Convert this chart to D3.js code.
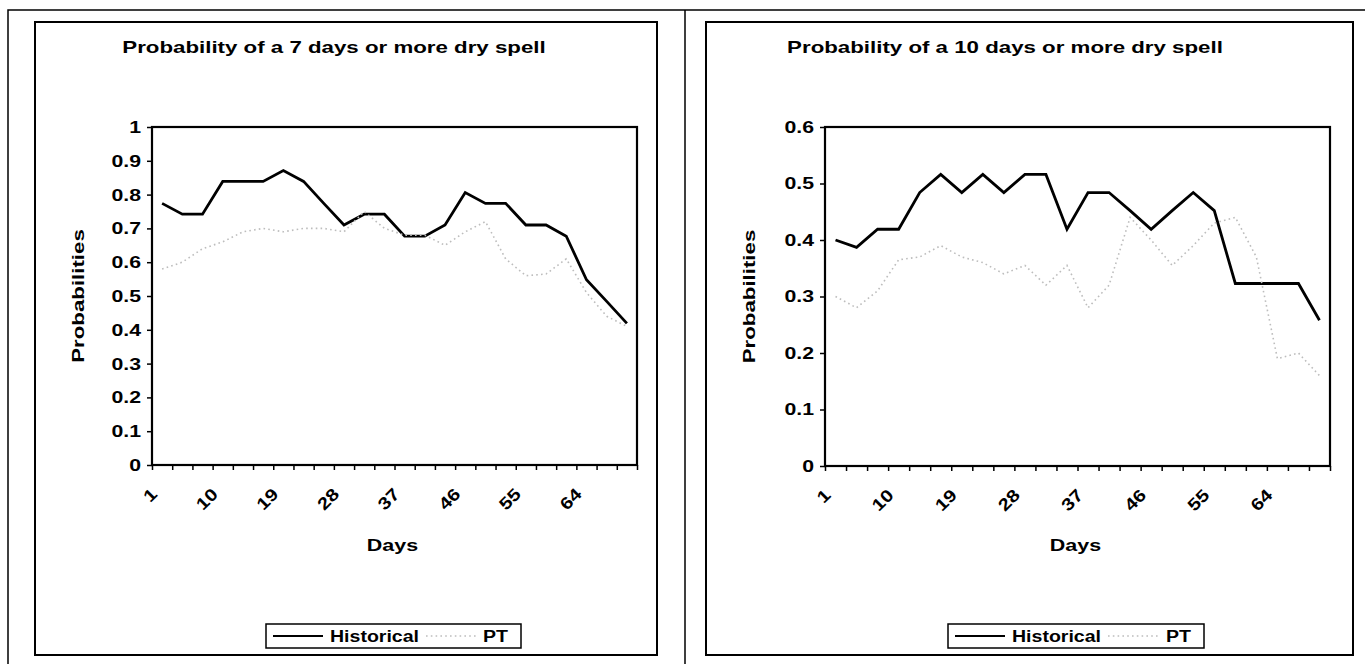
<!DOCTYPE html>
<html>
<head>
<meta charset="utf-8">
<script src="https://cdn.jsdelivr.net/npm/d3@7"></script>
<style>
  html, body { margin: 0; padding: 0; background: #fff; }
  svg text { font-family: "Liberation Sans", Arial, Helvetica, sans-serif; font-weight: bold; fill: #000; }
</style>
</head>
<body>
<svg id="fig" width="1365" height="664"></svg>
<script>
// Day of season (every third day) used as the category axis
const days = [1, 4, 7, 10, 13, 16, 19, 22, 25, 28, 31, 34, 37, 40, 43, 46, 49, 52, 55, 58, 61, 64, 67, 70];
const dayLabels = [1, 10, 19, 28, 37, 46, 55, 64];

// Probability of a dry spell of 7 days or more
const hist7 = [0.774, 0.742, 0.742, 0.839, 0.839, 0.839, 0.871, 0.839, 0.774, 0.710, 0.742, 0.742,
               0.677, 0.677, 0.710, 0.806, 0.774, 0.774, 0.710, 0.710, 0.677, 0.548, 0.484, 0.419];
const pt7   = [0.58, 0.60, 0.64, 0.66, 0.69, 0.70, 0.69, 0.70, 0.70, 0.69, 0.75, 0.70,
               0.68, 0.68, 0.65, 0.69, 0.72, 0.61, 0.56, 0.565, 0.61, 0.51, 0.44, 0.41];

// Probability of a dry spell of 10 days or more
const hist10 = [0.400, 0.387, 0.419, 0.419, 0.484, 0.516, 0.484, 0.516, 0.484, 0.516, 0.516, 0.419,
                0.484, 0.484, 0.452, 0.419, 0.452, 0.484, 0.452, 0.323, 0.323, 0.323, 0.323, 0.258];
const pt10   = [0.30, 0.28, 0.31, 0.365, 0.37, 0.39, 0.37, 0.36, 0.34, 0.355, 0.32, 0.355,
                0.28, 0.32, 0.44, 0.40, 0.355, 0.39, 0.43, 0.44, 0.37, 0.19, 0.20, 0.16];

const yTicks7  = [0, 0.1, 0.2, 0.3, 0.4, 0.5, 0.6, 0.7, 0.8, 0.9, 1];
const yTicks10 = [0, 0.1, 0.2, 0.3, 0.4, 0.5, 0.6];
const seriesNames = ["Historical", "PT"];

const panels = [
  { title: "Probability of a 7 days or more dry spell",
    frame: [35, 22, 657, 655], plot: [152, 127, 637, 465],
    yMax: 1, yTicks: yTicks7, hist: hist7, pt: pt7,
    legend: [266, 624, 521, 648] },
  { title: "Probability of a 10 days or more dry spell",
    frame: [706, 22, 1353, 655], plot: [825, 127, 1330, 466],
    yMax: 0.6, yTicks: yTicks10, hist: hist10, pt: pt10,
    legend: [948, 624, 1204, 648] }
];

// widen glyphs horizontally by factor k
function stretch(sel, k) {
  sel.each(function () {
    const w = this.getComputedTextLength();
    this.setAttribute("textLength", w * k);
    this.setAttribute("lengthAdjust", "spacingAndGlyphs");
  });
}

const svg = d3.select("#fig");

// Outer figure frame
svg.append("path")
  .attr("d", "M8,664 V10 H1365 M685,10 V664")
  .attr("fill", "none").attr("stroke", "#000").attr("stroke-width", 1.5);

const ptStyle = { stroke: "#bdbdbd", width: 1.6, dash: "1.6,3.2" };

panels.forEach(p => {
  const [fx0, fy0, fx1, fy1] = p.frame;
  const [px0, py0, px1, py1] = p.plot;
  const g = svg.append("g");

  // chart area border
  g.append("rect").attr("x", fx0).attr("y", fy0).attr("width", fx1 - fx0).attr("height", fy1 - fy0)
    .attr("fill", "none").attr("stroke", "#000").attr("stroke-width", 2);

  // title
  g.append("text").attr("x", fx0 + 299).attr("y", 53).attr("text-anchor", "middle")
    .style("font-size", "16.5px").text(p.title).call(stretch, 1.35);

  const x = d3.scaleBand().domain(days).range([px0, px1]).padding(0);
  const xEdge = d3.scaleLinear().domain([0, days.length]).range([px0, px1]);
  const y = d3.scaleLinear().domain([0, p.yMax]).range([py1, py0]);
  const cx = d => x(d) + x.bandwidth() / 2;

  // y axis ticks and labels
  const yAxis = d3.axisLeft(y).tickValues(p.yTicks).tickSize(5).tickPadding(6)
    .tickFormat(d => String(+d.toFixed(1)));
  const ya = g.append("g").attr("transform", `translate(${px0},0)`).call(yAxis);
  ya.select(".domain").remove();
  ya.selectAll(".tick line").attr("stroke", "#000").attr("stroke-width", 1.5);
  ya.selectAll(".tick text").attr("font-family", null).attr("font-size", null)
    .style("font-size", "17px").call(stretch, 1.25);

  // x axis: tick marks on category boundaries
  const xAxis = d3.axisBottom(xEdge).tickValues(d3.range(days.length + 1)).tickSize(5).tickFormat("");
  const xa = g.append("g").attr("transform", `translate(0,${py1})`).call(xAxis);
  xa.select(".domain").remove();
  xa.selectAll(".tick line").attr("stroke", "#000").attr("stroke-width", 1.5);

  // rotated day labels
  g.append("g").selectAll("text").data(dayLabels).join("text")
    .attr("transform", d => `translate(${cx(d) - 8},${py1 + 26}) rotate(-45)`)
    .attr("text-anchor", "end").attr("dy", "0.35em")
    .style("font-size", "17px").text(d => d).call(stretch, 1.2);

  // plot area box
  g.append("rect").attr("x", px0).attr("y", py0).attr("width", px1 - px0).attr("height", py1 - py0)
    .attr("fill", "none").attr("stroke", "#000").attr("stroke-width", 2.2);

  // axis titles
  g.append("text").attr("x", (px0 + px1) / 2 - 2).attr("y", 551).attr("text-anchor", "middle")
    .style("font-size", "16.5px").text("Days").call(stretch, 1.3);
  g.append("text").attr("transform", `translate(${fx0 + 49},${(py0 + py1) / 2}) rotate(-90)`)
    .attr("text-anchor", "middle")
    .style("font-size", "16.5px").text("Probabilities").call(stretch, 1.35);

  // series lines
  const line = d3.line().x((v, i) => cx(days[i])).y(v => y(v));
  g.append("path").datum(p.hist).attr("d", line)
    .attr("fill", "none").attr("stroke", "#000").attr("stroke-width", 2.8).attr("stroke-linejoin", "miter");
  g.append("path").datum(p.pt).attr("d", line)
    .attr("fill", "none").attr("stroke", ptStyle.stroke).attr("stroke-width", ptStyle.width)
    .attr("stroke-dasharray", ptStyle.dash);

  // legend
  const [lx0, ly0, lx1, ly1] = p.legend;
  const ly = (ly0 + ly1) / 2;
  const lg = g.append("g");
  lg.append("rect").attr("x", lx0).attr("y", ly0).attr("width", lx1 - lx0).attr("height", ly1 - ly0)
    .attr("fill", "#fff").attr("stroke", "#000").attr("stroke-width", 1.5);
  lg.append("line").attr("x1", lx0 + 7).attr("x2", lx0 + 57).attr("y1", ly).attr("y2", ly)
    .attr("stroke", "#000").attr("stroke-width", 2);
  lg.append("text").attr("x", lx0 + 64).attr("y", ly).attr("dy", "0.36em")
    .style("font-size", "16px").text(seriesNames[0]).call(stretch, 1.22);
  lg.append("line").attr("x1", lx0 + 160).attr("x2", lx0 + 212).attr("y1", ly).attr("y2", ly)
    .attr("stroke", ptStyle.stroke).attr("stroke-width", ptStyle.width).attr("stroke-dasharray", ptStyle.dash);
  lg.append("text").attr("x", lx1 - 13).attr("y", ly).attr("dy", "0.36em").attr("text-anchor", "end")
    .style("font-size", "16px").text(seriesNames[1]).call(stretch, 1.22);
});
</script>
</body>
</html>
